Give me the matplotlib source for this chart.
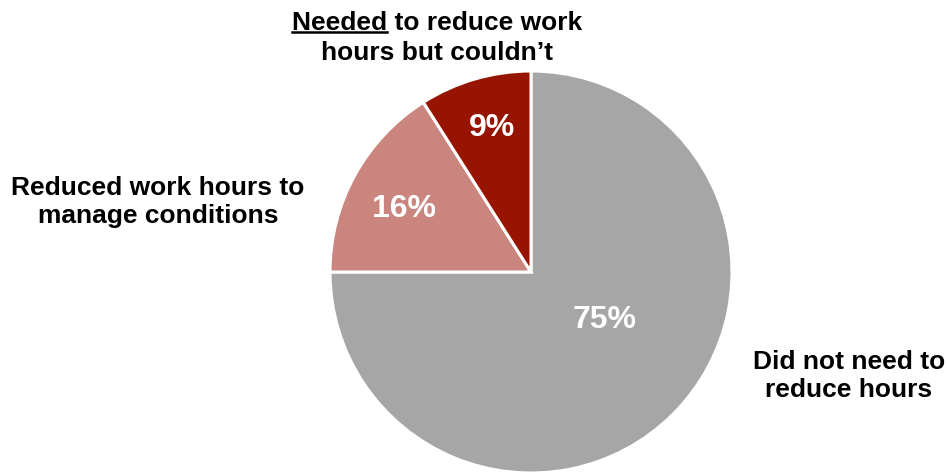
import matplotlib.pyplot as plt
from matplotlib.lines import Line2D

# data
labels = ["Did not need to\nreduce hours",
          "Reduced work hours to\nmanage conditions",
          "Needed to reduce work\nhours but couldn\u2019t"]
values = [75, 16, 9]
pct_text = ["75%", "16%", "9%"]
colors = ["#A6A6A6", "#C9857E", "#961400"]

plt.rcParams['font.family'] = ['Liberation Sans', 'DejaVu Sans']

W, H = 947, 474
fig = plt.figure(figsize=(W / 100, H / 100), dpi=100)

# pie centre / radius in pixels
cx, cy, r = 531, 272, 201
ax = fig.add_axes([(cx - r) / W, (H - cy - r) / H, 2 * r / W, 2 * r / H])
wedges, _ = ax.pie(values, colors=colors, startangle=90, counterclock=False,
                   radius=1.0, wedgeprops=dict(edgecolor="white", linewidth=2.2))
ax.set_xlim(-1, 1)
ax.set_ylim(-1, 1)
ax.set_aspect('equal')
ax.axis('off')

# percent labels (pixel positions)
pct_pos = [(605, 320), (404, 209), (492, 128)]
for (px, py), t in zip(pct_pos, pct_text):
    fig.text(px / W, 1 - py / H, t, ha='center', va='center', color='white',
             fontsize=23, fontweight='bold')

# outside labels
fs = 19
fig.text(849 / W, 1 - 376 / H, labels[0], ha='center', va='center',
         fontsize=fs, fontweight='bold', linespacing=1.25)
fig.text(158 / W, 1 - 202 / H, labels[1], ha='center', va='center',
         fontsize=fs, fontweight='bold', linespacing=1.25)

# top label with underlined "Needed"
line1, line2 = labels[2].split("\n")
t1 = fig.text(437 / W, 1 - 23 / H, line1, ha='center', va='center',
              fontsize=fs, fontweight='bold')
fig.text(437 / W, 1 - 53 / H, line2, ha='center', va='center',
         fontsize=fs, fontweight='bold')

fig.canvas.draw()
rend = fig.canvas.get_renderer()
bb = t1.get_window_extent(rend)
tmp = fig.text(bb.x0 / W, bb.y0 / H, "Needed", ha='left', va='bottom',
               fontsize=fs, fontweight='bold', alpha=0)
bb2 = tmp.get_window_extent(rend)
uy = (bb.y0 + 3) / H
fig.add_artist(Line2D([bb.x0 / W, bb2.x1 / W], [uy, uy], color='black',
                      linewidth=1.8, transform=fig.transFigure))

fig.savefig("out.png", dpi=100)
